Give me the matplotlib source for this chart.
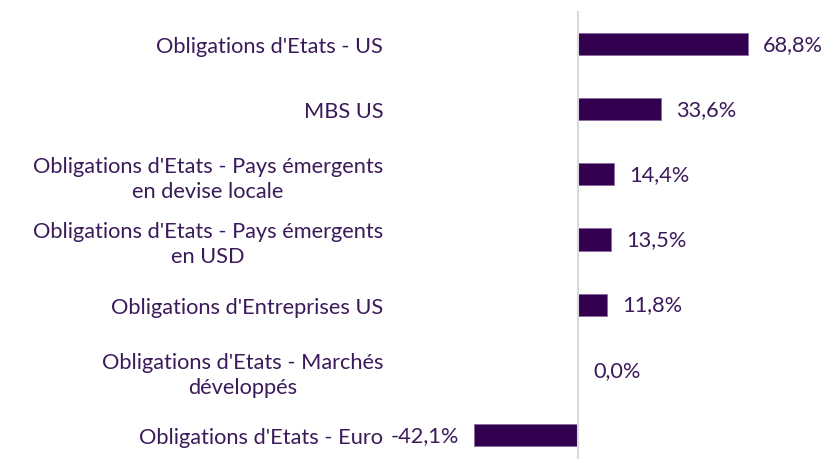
import matplotlib.pyplot as plt
import matplotlib as mpl

mpl.rcParams['font.family'] = ['Lato', 'DejaVu Sans']

categories = ["Obligations d'Etats - US",
              "MBS US",
              "Obligations d'Etats - Pays émergents\nen devise locale",
              "Obligations d'Etats - Pays émergents\nen USD",
              "Obligations d'Entreprises US",
              "Obligations d'Etats - Marchés\ndéveloppés",
              "Obligations d'Etats - Euro"]
values = [68.8, 33.6, 14.4, 13.5, 11.8, 0.0, -42.1]
labels = ['68,8%', '33,6%', '14,4%', '13,5%', '11,8%', '0,0%', '-42,1%']

bar_color = '#32004E'
text_color = '#3B1A5A'
fs = 15.7

fig = plt.figure(figsize=(8.28, 4.6), dpi=100)
ax = fig.add_axes([395/828, 0, (828-395)/828, (460-12)/460])

y = range(len(values))
ax.barh(y, values, height=0.34, color=bar_color, edgecolor='#8a6aa0', linewidth=0.6, zorder=2)
ax.axvline(0, color='#D9D9D9', linewidth=1.5, zorder=3)

ax.set_xlim(-74.1, 101.2)
ax.set_ylim(6.37, -0.506)

for yi, v, lab in zip(y, values, labels):
    if v < 0:
        ax.annotate(lab, (v, yi), xytext=(-11, 0), textcoords='offset points',
                    ha='right', va='center', fontsize=fs, color=text_color)
    else:
        ax.annotate(lab, (v, yi), xytext=(11, 0), textcoords='offset points',
                    ha='left', va='center', fontsize=fs, color=text_color)

ax.set_yticks(list(y))
ax.set_yticklabels(categories, fontsize=fs, color=text_color, ha='right',
                   multialignment='center', linespacing=1.3)
ax.tick_params(axis='y', length=0, pad=8.5)
ax.set_xticks([])

for s in ['top', 'right', 'bottom', 'left']:
    ax.spines[s].set_visible(False)

plt.savefig('out.png', dpi=100)
